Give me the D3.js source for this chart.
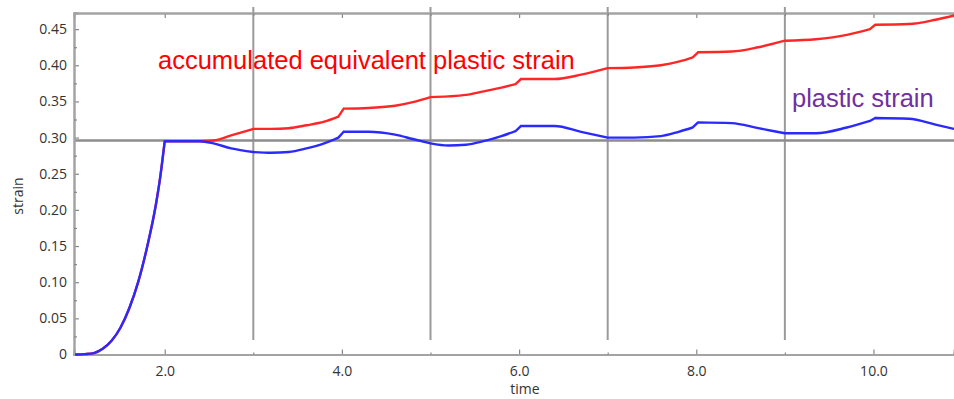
<!DOCTYPE html>
<html>
<head>
<meta charset="utf-8">
<script src="https://cdn.jsdelivr.net/npm/d3@7"></script>
<style>
  body { margin: 0; background: #fff; }
  svg { display: block; }
  .tick text { font-family: "Open Sans", sans-serif; font-size: 14px; fill: #333; }
</style>
</head>
<body>
<div id="chart"></div>
<script>
// time values (shared by both curves)
const time = [1.0, 1.1, 1.2, 1.3, 1.4, 1.5, 1.6, 1.7, 1.8, 1.9, 1.95, 2.0,
  2.4, 2.55, 2.75, 3.0, 3.2, 3.4, 3.6, 3.8, 3.96, 4.02,
  4.3, 4.6, 4.8, 5.0, 5.2, 5.4, 5.6, 5.8, 5.96, 6.02,
  6.4, 6.7, 7.0, 7.3, 7.6, 7.8, 7.96, 8.02,
  8.4, 8.7, 9.0, 9.35, 9.7, 9.96, 10.02,
  10.4, 10.7, 10.91];

const plasticStrain = [0, 0.0005, 0.002, 0.008, 0.019, 0.037, 0.064, 0.100, 0.148, 0.207, 0.246, 0.295,
  0.295, 0.292, 0.285, 0.280, 0.279, 0.280, 0.285, 0.292, 0.300, 0.308,
  0.308, 0.304, 0.298, 0.292, 0.289, 0.290, 0.295, 0.302, 0.309, 0.316,
  0.316, 0.308, 0.300, 0.300, 0.302, 0.308, 0.314, 0.321,
  0.320, 0.313, 0.306, 0.306, 0.314, 0.323, 0.327,
  0.326, 0.318, 0.312];

const accumStrain = [0, 0.0005, 0.002, 0.008, 0.019, 0.037, 0.064, 0.100, 0.148, 0.207, 0.246, 0.295,
  0.295, 0.296, 0.303, 0.312, 0.312, 0.313, 0.317, 0.322, 0.329, 0.340,
  0.341, 0.344, 0.349, 0.356, 0.357, 0.359, 0.364, 0.369, 0.374, 0.381,
  0.381, 0.387, 0.396, 0.397, 0.400, 0.405, 0.411, 0.418,
  0.419, 0.425, 0.434, 0.436, 0.442, 0.450, 0.456,
  0.457, 0.463, 0.469];

// times where the curves have a sharp corner
const kinks = [2.0, 3.0, 3.96, 4.02, 5.0, 5.96, 6.02, 7.0, 7.96, 8.02, 9.0, 9.96, 10.02];

const xTicks = [2, 4, 6, 8, 10];
const xMinor = [3, 5, 7, 9];
const yTicks = [0, 0.05, 0.10, 0.15, 0.20, 0.25, 0.30, 0.35, 0.40, 0.45];
const yMinor = [0.025, 0.075, 0.125, 0.175, 0.225, 0.275, 0.325, 0.375, 0.425, 0.4725];
const cycleMarks = [3, 5, 7, 9];
const refStrain = 0.296;

const width = 954, height = 399;
const margin = { left: 74, top: 13, right: 0, bottom: 44 };
const axisColor = '#a3a3a3';

const svg = d3.select('#chart').append('svg')
  .attr('width', width)
  .attr('height', height);

const x = d3.scaleLinear()
  .domain([0.976, 10.909])
  .range([margin.left, width - margin.right]);

const y = d3.scaleLinear()
  .domain([0, 0.4723])
  .range([354.5, margin.top]);

// reference lines
svg.selectAll('line.cycle').data(cycleMarks)
  .enter().append('line')
    .attr('class', 'cycle')
    .attr('x1', d => x(d)).attr('x2', d => x(d))
    .attr('y1', 7).attr('y2', 340)
    .attr('stroke', '#9a9a9a')
    .attr('stroke-width', 2);

svg.append('line')
  .attr('x1', margin.left).attr('x2', width)
  .attr('y1', y(refStrain)).attr('y2', y(refStrain))
  .attr('stroke', '#8c8c8c')
  .attr('stroke-width', 2.5);

// axes
const yAxis = svg.append('g')
  .attr('transform', 'translate(' + margin.left + ',0)')
  .call(d3.axisLeft(y).tickValues(yTicks).tickSize(-5)
    .tickFormat(d => d === 0 ? '0' : d3.format('.2f')(d)));
yAxis.selectAll('.tick text').attr('x', -7);

svg.append('g')
  .attr('transform', 'translate(' + margin.left + ',0)')
  .call(d3.axisLeft(y).tickValues(yMinor).tickSize(-3).tickFormat(''));

const xAxis = svg.append('g')
  .attr('transform', 'translate(0,' + y(0) + ')')
  .call(d3.axisBottom(x).tickValues(xTicks).tickSize(-5).tickFormat(d3.format('.1f')));
xAxis.selectAll('.tick text').attr('y', 12).attr('dy', '0.71em');

svg.append('g')
  .attr('transform', 'translate(0,' + y(0) + ')')
  .call(d3.axisBottom(x).tickValues(xMinor).tickSize(-2).tickFormat(''));

svg.append('g')
  .attr('transform', 'translate(0,' + margin.top + ')')
  .call(d3.axisTop(x).tickValues(xTicks).tickSize(-5).tickFormat(''));

svg.append('g')
  .attr('transform', 'translate(0,' + margin.top + ')')
  .call(d3.axisTop(x).tickValues(xMinor).tickSize(-3).tickFormat(''));

svg.selectAll('.domain')
  .attr('stroke', axisColor)
  .attr('stroke-width', 2);
svg.selectAll('.tick line')
  .attr('stroke', '#888')
  .attr('stroke-width', 1.2);

// curves: smooth inside each piece, sharp at the kinks
const line = d3.line()
  .x(d => x(d[0]))
  .y(d => y(d[1]))
  .curve(d3.curveMonotoneX);

function pieces(values) {
  const pts = d3.zip(time, values);
  const out = [];
  let cur = [];
  pts.forEach(p => {
    cur.push(p);
    if (kinks.includes(p[0])) {
      out.push(cur);
      cur = [p];
    }
  });
  if (cur.length > 1) out.push(cur);
  return out.map(seg => line(seg)).join('');
}

svg.append('path')
  .attr('fill', 'none')
  .attr('stroke', '#ff2626')
  .attr('stroke-width', 2.4)
  .attr('stroke-linecap', 'round')
  .attr('d', pieces(accumStrain));

svg.append('path')
  .attr('fill', 'none')
  .attr('stroke', '#2a2aff')
  .attr('stroke-width', 2.4)
  .attr('stroke-linecap', 'round')
  .attr('d', pieces(plasticStrain));

// labels
svg.append('text')
  .attr('x', 525).attr('y', 394)
  .attr('text-anchor', 'middle')
  .style('font-family', '"Open Sans", sans-serif')
  .style('font-size', '14px')
  .attr('fill', '#333')
  .text('time');

svg.append('text')
  .attr('transform', 'translate(23,196) rotate(-90)')
  .attr('text-anchor', 'middle')
  .style('font-family', '"Open Sans", sans-serif')
  .style('font-size', '14px')
  .attr('fill', '#333')
  .text('strain');

svg.append('text')
  .attr('x', 158).attr('y', 69)
  .style('font-family', '"Liberation Sans", Arial, sans-serif')
  .style('font-size', '25.5px')
  .attr('fill', '#ff0000')
  .text('accumulated equivalent plastic strain');

svg.append('text')
  .attr('x', 792).attr('y', 107)
  .style('font-family', '"Liberation Sans", Arial, sans-serif')
  .style('font-size', '25.5px')
  .attr('fill', '#7030a0')
  .text('plastic strain');
</script>
</body>
</html>
